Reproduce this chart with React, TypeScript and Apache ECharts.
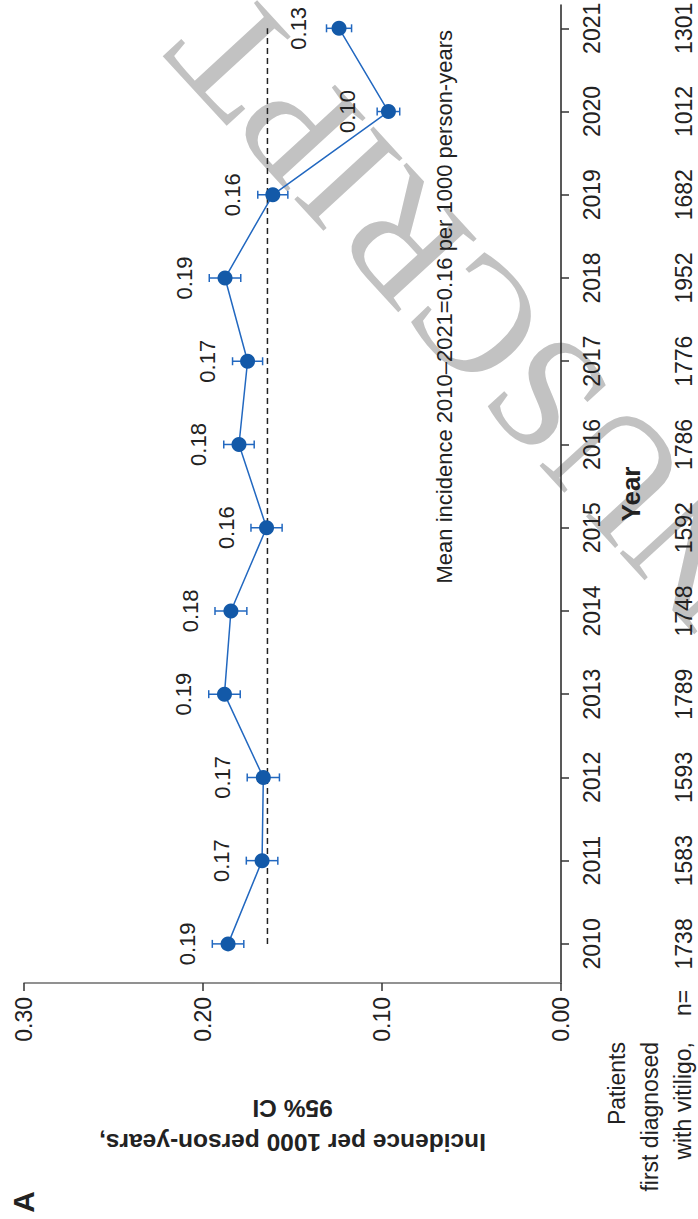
import React, { useEffect, useRef } from "react";
import * as echarts from "echarts";

const years = [2010, 2011, 2012, 2013, 2014, 2015, 2016, 2017, 2018, 2019, 2020, 2021];
const incidence = [0.186, 0.167, 0.1663, 0.188, 0.1844, 0.1645, 0.1799, 0.1751, 0.1877, 0.161, 0.0964, 0.124];
const ciLower = [0.1772, 0.1582, 0.1573, 0.1792, 0.1755, 0.1558, 0.1714, 0.1667, 0.1789, 0.1526, 0.0901, 0.117];
const ciUpper = [0.1948, 0.1758, 0.1753, 0.1968, 0.1933, 0.1732, 0.1884, 0.1835, 0.1965, 0.1694, 0.1027, 0.131];
const valueLabels = ["0.19", "0.17", "0.17", "0.19", "0.18", "0.16", "0.18", "0.17", "0.19", "0.16", "0.10", "0.13"];
const patientCounts = [1738, 1583, 1593, 1789, 1748, 1592, 1786, 1776, 1952, 1682, 1012, 1301];
const meanIncidence = 0.164;
const meanSpan = [2010, 2021];

const FONT = "'Liberation Sans', Arial, Helvetica, sans-serif";
const BLUE = "#1359a8";
const LINE_BLUE = "#2268c0";

export default function App() {
  const ref = useRef<HTMLDivElement>(null);
  useEffect(() => {
    if (!ref.current) return;
    const chart = echarts.init(ref.current, undefined, { renderer: "svg" });
    const yMin = 2009.53;
    const yMax = 2021.28;
    const option: any = {
      animation: false,
      backgroundColor: "#ffffff",
      textStyle: { fontFamily: FONT },
      grid: { left: 24, right: 137, top: 5, bottom: 236, containLabel: false, outerBoundsMode: "none" },
      xAxis: {
        type: "value",
        inverse: true,
        min: 0,
        max: 0.3,
        interval: 0.1,
        position: "bottom",
        axisLine: { show: true, lineStyle: { color: "#6e6e6e", width: 1.5 } },
        axisTick: { show: true, length: 8, lineStyle: { color: "#333", width: 1.5 } },
        splitLine: { show: false },
        axisLabel: {
          rotate: 90,
          margin: 14,
          fontSize: 23,
          color: "#222",
          formatter: (v: number) => v.toFixed(2),
        },
        name: "Incidence per 1000 person-years,\n95% CI",
        nameLocation: "middle",
        nameRotate: 180,
        nameGap: 108,
        nameTextStyle: { fontSize: 24.5, fontWeight: "bold", color: "#222", lineHeight: 34, fontFamily: FONT },
      },
      yAxis: [
        {
          type: "value",
          position: "right",
          min: yMin,
          max: yMax,
          axisLine: { show: true, onZero: false, lineStyle: { color: "#222", width: 1.5 } },
          axisTick: { show: true, length: 8, customValues: years, lineStyle: { color: "#333", width: 1.5 } },
          splitLine: { show: false },
          axisLabel: {
            customValues: years,
            rotate: 90,
            margin: 19,
            fontSize: 23,
            color: "#222",
            formatter: (v: number) => String(Math.round(v)),
          },
          name: "Year",
          nameLocation: "middle",
          nameRotate: 90,
          nameGap: 57,
          nameTextStyle: { fontSize: 26, fontWeight: "bold", color: "#222", fontFamily: FONT },
        },
        {
          type: "value",
          position: "right",
          offset: 93,
          min: yMin,
          max: yMax,
          axisLine: { show: false },
          axisTick: { show: false },
          splitLine: { show: false },
          axisLabel: {
            customValues: years,
            rotate: 90,
            margin: 18,
            fontSize: 23,
            color: "#222",
            formatter: (v: number) => {
              const i = years.indexOf(Math.round(v));
              return i >= 0 ? String(patientCounts[i]) : "";
            },
          },
        },
      ],
      graphic: [
        {
          type: "text",
          x: 199,
          y: 19,
          rotation: 2.315,
          z: -10,
          silent: true,
          style: {
            text: "MANUSCRIPT",
            fontSize: 164,
            fontFamily: "'Liberation Serif', 'Times New Roman', serif",
            fill: "#c2c2c2",
            align: "right",
            verticalAlign: "middle",
          },
        },
        {
          type: "text",
          x: 444,
          y: 30,
          rotation: Math.PI / 2,
          z: 10,
          style: {
            text: "Mean incidence 2010\u20132021=0.16 per 1000 person-years",
            fontSize: 22,
            fontFamily: FONT,
            fill: "#222",
            align: "right",
            verticalAlign: "middle",
          },
        },
        {
          type: "text",
          x: 600,
          y: 1042,
          rotation: Math.PI / 2,
          z: 10,
          style: {
            text: "Patients\nfirst diagnosed\nwith vitiligo,",
            fontSize: 23,
            lineHeight: 33,
            fontFamily: FONT,
            fill: "#222",
            align: "right",
            verticalAlign: "top",
          },
        },
        {
          type: "text",
          x: 683,
          y: 1003,
          rotation: Math.PI / 2,
          z: 10,
          style: {
            text: "n=",
            fontSize: 23,
            fontFamily: FONT,
            fill: "#222",
            align: "center",
            verticalAlign: "middle",
          },
        },
        {
          type: "text",
          x: 23,
          y: 1202,
          rotation: Math.PI / 2,
          z: 10,
          style: {
            text: "A",
            fontSize: 30,
            fontWeight: "bold",
            fontFamily: FONT,
            fill: "#222",
            align: "center",
            verticalAlign: "middle",
          },
        },
      ],
      series: [
        {
          type: "line",
          name: "mean",
          data: meanSpan.map((y) => [meanIncidence, y]),
          symbol: "none",
          lineStyle: { color: "#222", width: 1.5, type: [6, 4] },
          z: 2,
          silent: true,
        },
        {
          type: "custom",
          name: "ci",
          data: years.map((y, i) => [y, ciLower[i], ciUpper[i]]),
          encode: { x: [1, 2], y: 0 },
          z: 3,
          renderItem: (params: any, api: any) => {
            const y = api.value(0);
            const lo = api.coord([api.value(1), y]);
            const hi = api.coord([api.value(2), y]);
            const h = 4;
            const style = { stroke: LINE_BLUE, lineWidth: 1.5 };
            return {
              type: "group",
              children: [
                { type: "line", shape: { x1: lo[0], y1: lo[1], x2: hi[0], y2: hi[1] }, style },
                { type: "line", shape: { x1: lo[0], y1: lo[1] - h, x2: lo[0], y2: lo[1] + h }, style },
                { type: "line", shape: { x1: hi[0], y1: hi[1] - h, x2: hi[0], y2: hi[1] + h }, style },
              ],
            };
          },
        },
        {
          type: "line",
          name: "incidence",
          data: years.map((y, i) => [incidence[i], y]),
          symbol: "circle",
          symbolSize: 15,
          itemStyle: { color: BLUE },
          lineStyle: { color: LINE_BLUE, width: 1.5 },
          z: 4,
          label: {
            show: true,
            position: "left",
            distance: 33,
            rotate: 90,
            align: "center",
            verticalAlign: "middle",
            fontSize: 22,
            color: "#222",
            fontFamily: FONT,
            formatter: (p: any) => valueLabels[p.dataIndex],
          },
        },
      ],
    };
    chart.setOption(option);
    return () => chart.dispose();
  }, []);
  return <div ref={ref} style={{ position: "absolute", left: 0, top: 0, width: 698, height: 1219 }} />;
}
